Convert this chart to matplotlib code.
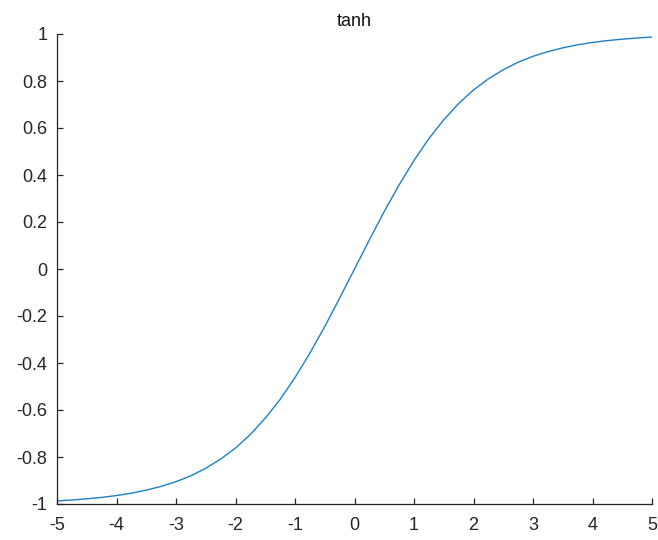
import matplotlib
matplotlib.use("Agg")
import matplotlib.pyplot as plt

# samples
x_vals = [-5.0, -4.75, -4.5, -4.25, -4.0, -3.75, -3.5, -3.25, -3.0, -2.75,
          -2.5, -2.25, -2.0, -1.75, -1.5, -1.25, -1.0, -0.75, -0.5, -0.25,
          0.0, 0.25, 0.5, 0.75, 1.0, 1.25, 1.5, 1.75, 2.0, 2.25,
          2.5, 2.75, 3.0, 3.25, 3.5, 3.75, 4.0, 4.25, 4.5, 4.75, 5.0]
y_pos = [0.0, 0.124, 0.245, 0.358, 0.462, 0.555, 0.635, 0.704, 0.762, 0.809,
         0.848, 0.880, 0.905, 0.925, 0.941, 0.954, 0.964, 0.972, 0.978, 0.983, 0.987]
y_vals = [-v for v in y_pos[:0:-1]] + y_pos

x_ticks = [-5, -4, -3, -2, -1, 0, 1, 2, 3, 4, 5]
y_ticks = [-1, -0.8, -0.6, -0.4, -0.2, 0, 0.2, 0.4, 0.6, 0.8, 1]
y_labels = ["-1", "-0.8", "-0.6", "-0.4", "-0.2", "0", "0.2", "0.4", "0.6", "0.8", "1"]

plt.rcParams['font.family'] = ['Liberation Sans', 'DejaVu Sans']

fig = plt.figure(figsize=(6.58, 5.4), dpi=100)
ax = fig.add_axes([57 / 658, 36 / 540, 595 / 658, 470 / 540])

ax.plot(x_vals, y_vals, color='#1f7fc4', linewidth=1.0)

ax.set_xlim(-5, 5)
ax.set_ylim(-1, 1)
ax.set_xticks(x_ticks)
ax.set_xticklabels([str(t) for t in x_ticks])
ax.set_yticks(y_ticks)
ax.set_yticklabels(y_labels)

for side in ['top', 'right']:
    ax.spines[side].set_visible(False)
for side in ['left', 'bottom']:
    ax.spines[side].set_color('#262626')
    ax.spines[side].set_linewidth(0.9)

ax.tick_params(direction='in', length=4, width=0.9, colors='#262626',
               labelsize=13)
ax.tick_params(axis='x', pad=9)
ax.tick_params(axis='y', pad=7)
ax.set_title("tanh", fontsize=13, color='#111111', pad=6)

fig.savefig("out.png", dpi=100)
